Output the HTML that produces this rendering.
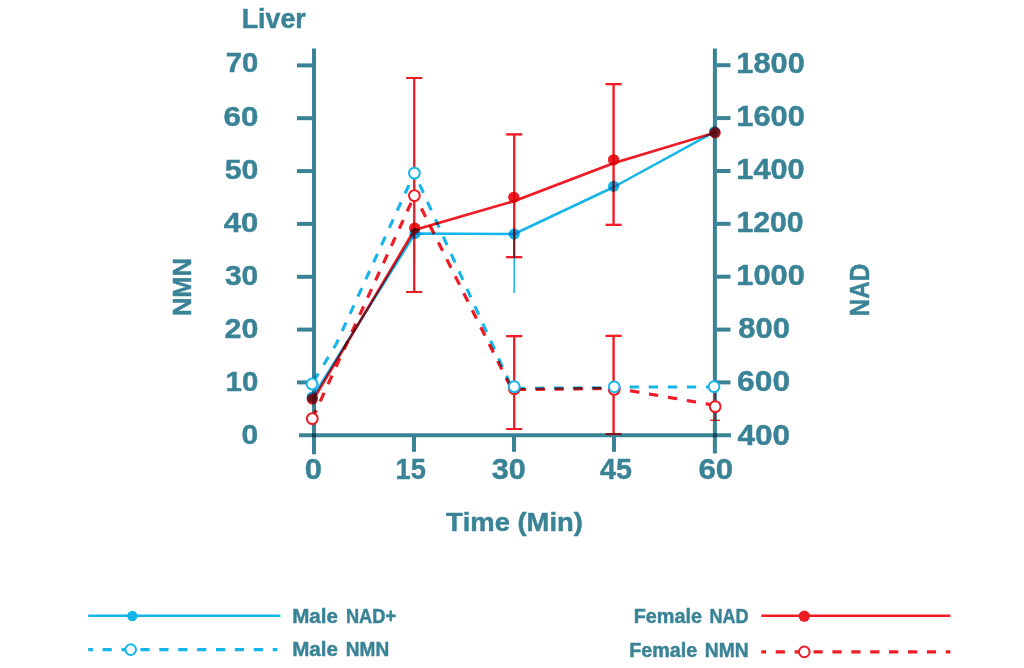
<!DOCTYPE html>
<html lang="en"><head><meta charset="utf-8"><title>Liver NMN / NAD</title>
<style>
html,body{margin:0;padding:0;background:#fff;}
body{width:1024px;height:668px;overflow:hidden;}
svg{display:block;}
text{font-family:"Liberation Sans",sans-serif;font-weight:bold;fill:#3a8397;font-kerning:none;stroke:#3a8397;stroke-width:0.45;stroke-linejoin:round;}
.m{mix-blend-mode:multiply;}
.ax{stroke:#3a8397;stroke-width:4;fill:none;}
.r{stroke:#ee1c25;fill:none;}
.c{stroke:#16b5e9;fill:none;}
</style></head><body>
<svg width="1024" height="668" viewBox="0 0 1024 668">
<rect width="1024" height="668" fill="#fff"/>

<g class="ax" style="isolation:auto">
<line class="m" x1="314" y1="48.5" x2="314" y2="454.2"/>
<line class="m" x1="714.9" y1="48.5" x2="714.9" y2="453.6"/>
<line class="m" x1="299" y1="435.2" x2="731" y2="435.2"/>
<line x1="297" y1="382.4" x2="312" y2="382.4"/>
<line x1="297" y1="329.6" x2="312" y2="329.6"/>
<line x1="297" y1="276.8" x2="312" y2="276.8"/>
<line x1="297" y1="223.9" x2="312" y2="223.9"/>
<line x1="297" y1="171.1" x2="312" y2="171.1"/>
<line x1="297" y1="118.2" x2="312" y2="118.2"/>
<line x1="297" y1="65.4" x2="312" y2="65.4"/>
<line x1="717" y1="382.4" x2="730.5" y2="382.4"/>
<line x1="717" y1="329.6" x2="730.5" y2="329.6"/>
<line x1="717" y1="276.7" x2="730.5" y2="276.7"/>
<line x1="717" y1="223.8" x2="730.5" y2="223.8"/>
<line x1="717" y1="171.0" x2="730.5" y2="171.0"/>
<line x1="717" y1="118.1" x2="730.5" y2="118.1"/>
<line x1="717" y1="65.2" x2="730.5" y2="65.2"/>
<line x1="414" y1="437" x2="414" y2="451.8"/>
<line x1="514" y1="437" x2="514" y2="451.8"/>
<line x1="614" y1="437" x2="614" y2="451.8"/>
</g>
<g>
<text x="241.71" y="27.80" font-size="26.8" textLength="64.00" lengthAdjust="spacingAndGlyphs">Liver</text>
<text x="241.61" y="444.40" font-size="28.3" textLength="16.72" lengthAdjust="spacingAndGlyphs">0</text>
<text x="225.54" y="391.26" font-size="28.3" textLength="32.76" lengthAdjust="spacingAndGlyphs">10</text>
<text x="224.55" y="338.12" font-size="28.3" textLength="33.80" lengthAdjust="spacingAndGlyphs">20</text>
<text x="224.91" y="284.98" font-size="28.3" textLength="33.42" lengthAdjust="spacingAndGlyphs">30</text>
<text x="223.83" y="231.84" font-size="28.3" textLength="34.54" lengthAdjust="spacingAndGlyphs">40</text>
<text x="224.67" y="178.70" font-size="28.3" textLength="33.67" lengthAdjust="spacingAndGlyphs">50</text>
<text x="223.55" y="125.56" font-size="28.3" textLength="34.83" lengthAdjust="spacingAndGlyphs">60</text>
<text x="225.74" y="72.42" font-size="28.3" textLength="32.56" lengthAdjust="spacingAndGlyphs">70</text>
<text x="737.42" y="444.50" font-size="28.6" textLength="52.67" lengthAdjust="spacingAndGlyphs">400</text>
<text x="737.14" y="391.43" font-size="28.6" textLength="52.96" lengthAdjust="spacingAndGlyphs">600</text>
<text x="738.32" y="338.36" font-size="28.6" textLength="51.76" lengthAdjust="spacingAndGlyphs">800</text>
<text x="736.36" y="285.29" font-size="28.6" textLength="68.50" lengthAdjust="spacingAndGlyphs">1000</text>
<text x="736.40" y="232.22" font-size="28.6" textLength="67.14" lengthAdjust="spacingAndGlyphs">1200</text>
<text x="736.37" y="179.15" font-size="28.6" textLength="68.29" lengthAdjust="spacingAndGlyphs">1400</text>
<text x="736.36" y="126.08" font-size="28.6" textLength="68.50" lengthAdjust="spacingAndGlyphs">1600</text>
<text x="736.36" y="73.01" font-size="28.6" textLength="68.50" lengthAdjust="spacingAndGlyphs">1800</text>
<text x="304.78" y="478.90" font-size="29" textLength="17.19" lengthAdjust="spacingAndGlyphs">0</text>
<text x="395.59" y="478.90" font-size="29" textLength="30.27" lengthAdjust="spacingAndGlyphs">15</text>
<text x="491.80" y="478.90" font-size="29" textLength="34.06" lengthAdjust="spacingAndGlyphs">30</text>
<text x="600.07" y="478.90" font-size="29" textLength="31.93" lengthAdjust="spacingAndGlyphs">45</text>
<text x="698.46" y="478.90" font-size="29" textLength="34.72" lengthAdjust="spacingAndGlyphs">60</text>
<text x="445.99" y="530.50" font-size="26.5" textLength="136.87" lengthAdjust="spacingAndGlyphs">Time (Min)</text>
<text transform="translate(190.7 314.9) rotate(-90)" x="-1.21" y="0" font-size="26.6" textLength="58.13" lengthAdjust="spacingAndGlyphs">NMN</text>
<text transform="translate(868.5 315.1) rotate(-90)" x="-1.12" y="0" font-size="27" textLength="52.44" lengthAdjust="spacingAndGlyphs">NAD</text>
<text y="622.50" font-size="19.4"><tspan x="292.22" textLength="45.78" lengthAdjust="spacingAndGlyphs">Male</tspan> <tspan x="345.88" textLength="50.16" lengthAdjust="spacingAndGlyphs">NAD+</tspan></text>
<text y="656.40" font-size="19.4"><tspan x="292.22" textLength="45.78" lengthAdjust="spacingAndGlyphs">Male</tspan> <tspan x="345.82" textLength="43.46" lengthAdjust="spacingAndGlyphs">NMN</tspan></text>
<text y="622.50" font-size="19.4"><tspan x="633.67" textLength="68.30" lengthAdjust="spacingAndGlyphs">Female</tspan> <tspan x="709.59" textLength="39.06" lengthAdjust="spacingAndGlyphs">NAD</tspan></text>
<text y="656.70" font-size="19.4"><tspan x="629.28" textLength="67.99" lengthAdjust="spacingAndGlyphs">Female</tspan> <tspan x="704.81" textLength="43.89" lengthAdjust="spacingAndGlyphs">NMN</tspan></text>
</g>
<g style="isolation:auto">
<path class="c m" stroke-width="1.5" d="M514.2 234V293"/>
<polyline class="c m" stroke-width="2.5" stroke-linejoin="round" points="313.2,396.2 415,233.5 514.2,234 613.8,187 714.6,131.8"/>
<path class="c m" stroke-width="3.1" stroke-dasharray="9.3 10.20" stroke-dashoffset="16.60" d="M312.05 384.0L336.2 344.0"/>
<path class="c m" stroke-width="3.1" stroke-dasharray="9.3 9.60" stroke-dashoffset="4.60" d="M336.2 344.0L414.4 173.1"/>
<path class="c m" stroke-width="3.1" stroke-dasharray="9.3 9.80" stroke-dashoffset="6.60" d="M414.4 173.1L511.9 387.6"/>
<path class="c m" stroke-width="3.1" stroke-dasharray="9.3 9.63" stroke-dashoffset="17.13" d="M514.2 388.4L614.2 387.6"/>
<path class="c m" stroke-width="3.1" stroke-dasharray="9.3 9.80" stroke-dashoffset="3.70" d="M614.2 387.0L714.0 387.0"/>
<circle class="m" cx="312.2" cy="397.2" r="5.6" fill="#16b5e9"/>
<circle class="m" cx="415" cy="233.5" r="5.6" fill="#16b5e9"/>
<circle class="m" cx="514.2" cy="234" r="5.6" fill="#16b5e9"/>
<circle class="m" cx="613.6" cy="186.3" r="5.6" fill="#16b5e9"/>
<circle class="m" cx="714.5" cy="131.8" r="5.6" fill="#16b5e9"/>
<g>
<path class="r m" stroke-width="2.2" d="M414.2 78V292M406.2 78H422.2M406.2 292H422.2"/>
<path class="r m" stroke-width="2.2" d="M514.2 134.4V257.2M506.20000000000005 134.4H522.2M506.20000000000005 257.2H522.2"/>
<path class="r m" stroke-width="2.2" d="M514.2 336.2V429M506.20000000000005 336.2H522.2M506.20000000000005 429H522.2"/>
<path class="r m" stroke-width="2.2" d="M613.6 84.2V224.8M605.6 84.2H621.6M605.6 224.8H621.6"/>
<path class="r m" stroke-width="2.2" d="M613.6 335.8V434M605.6 335.8H621.6M605.6 434H621.6"/>
<path class="r m" stroke-width="1.2" d="M715 392V420.4M710 420.4H720"/>
<polyline class="r m" stroke-width="2.5" stroke-linejoin="round" points="313.5,399.3 414.4,230 514.5,201 614,163 715,132.6"/>
<path class="r m" stroke-width="3.1" stroke-dasharray="9.3 9.70" stroke-dashoffset="0.00" d="M312.3 418.6L414.4 195.6"/>
<path class="r m" stroke-width="3.1" stroke-dasharray="9.3 9.65" stroke-dashoffset="4.50" d="M415.0 195.6L511.8 389.3"/>
<path class="r m" stroke-width="3.1" stroke-dasharray="9.3 9.63" stroke-dashoffset="16.33" d="M514.2 389.6L614.2 388.4"/>
<path class="r m" stroke-width="3.1" stroke-dasharray="9.3 9.90" stroke-dashoffset="3.10" d="M614.2 388.0L715.2 405.4"/>
<circle class="m" cx="312.3" cy="399" r="5.6" fill="#ee1c25"/>
<circle class="m" cx="414.7" cy="228.1" r="5.6" fill="#ee1c25"/>
<circle class="m" cx="513.8" cy="197.3" r="5.6" fill="#ee1c25"/>
<circle class="m" cx="613.6" cy="159.8" r="5.6" fill="#ee1c25"/>
<circle class="m" cx="715.1" cy="132.7" r="5.6" fill="#ee1c25"/>
</g>
<g opacity="0.38">
<path class="r m" stroke-width="2.2" d="M414.2 78V292M406.2 78H422.2M406.2 292H422.2"/>
<path class="r m" stroke-width="2.2" d="M514.2 134.4V257.2M506.20000000000005 134.4H522.2M506.20000000000005 257.2H522.2"/>
<path class="r m" stroke-width="2.2" d="M514.2 336.2V429M506.20000000000005 336.2H522.2M506.20000000000005 429H522.2"/>
<path class="r m" stroke-width="2.2" d="M613.6 84.2V224.8M605.6 84.2H621.6M605.6 224.8H621.6"/>
<path class="r m" stroke-width="2.2" d="M613.6 335.8V434M605.6 335.8H621.6M605.6 434H621.6"/>
<path class="r m" stroke-width="1.2" d="M715 392V420.4M710 420.4H720"/>
<polyline class="r m" stroke-width="2.5" stroke-linejoin="round" points="313.5,399.3 414.4,230 514.5,201 614,163 715,132.6"/>
<path class="r m" stroke-width="3.1" stroke-dasharray="9.3 9.70" stroke-dashoffset="0.00" d="M312.3 418.6L414.4 195.6"/>
<path class="r m" stroke-width="3.1" stroke-dasharray="9.3 9.65" stroke-dashoffset="4.50" d="M415.0 195.6L511.8 389.3"/>
<path class="r m" stroke-width="3.1" stroke-dasharray="9.3 9.63" stroke-dashoffset="16.33" d="M514.2 389.6L614.2 388.4"/>
<path class="r m" stroke-width="3.1" stroke-dasharray="9.3 9.90" stroke-dashoffset="3.10" d="M614.2 388.0L715.2 405.4"/>
<circle class="m" cx="312.3" cy="399" r="5.6" fill="#ee1c25"/>
<circle class="m" cx="414.7" cy="228.1" r="5.6" fill="#ee1c25"/>
<circle class="m" cx="513.8" cy="197.3" r="5.6" fill="#ee1c25"/>
<circle class="m" cx="613.6" cy="159.8" r="5.6" fill="#ee1c25"/>
<circle class="m" cx="715.1" cy="132.7" r="5.6" fill="#ee1c25"/>
</g>
<circle cx="312.3" cy="418.6" r="5.4" fill="#fff" stroke="#ee1c25" stroke-width="2"/>
<circle cx="414.4" cy="195.6" r="5.4" fill="#fff" stroke="#ee1c25" stroke-width="2"/>
<circle cx="514.3" cy="388.7" r="5.4" fill="#fff" stroke="#ee1c25" stroke-width="2"/>
<circle cx="614.2" cy="389.4" r="5.4" fill="#fff" stroke="#ee1c25" stroke-width="2"/>
<circle cx="715.2" cy="406.6" r="5.4" fill="#fff" stroke="#ee1c25" stroke-width="2"/>
<circle cx="312.05" cy="384.0" r="5.4" fill="#fff" stroke="#16b5e9" stroke-width="2"/>
<circle cx="414.4" cy="173.1" r="5.4" fill="#fff" stroke="#16b5e9" stroke-width="2"/>
<circle cx="514.2" cy="386.7" r="5.4" fill="#fff" stroke="#16b5e9" stroke-width="2"/>
<circle cx="614.2" cy="386.8" r="5.4" fill="#fff" stroke="#16b5e9" stroke-width="2"/>
<circle cx="714.0" cy="386.7" r="5.4" fill="#fff" stroke="#16b5e9" stroke-width="2"/>
</g>
<g>
<line class="c" stroke-width="2.4" x1="88.2" y1="615.8" x2="280.4" y2="615.8"/>
<circle cx="132.3" cy="616" r="5.2" fill="#16b5e9"/>
<line class="c" stroke-width="3.2" stroke-dasharray="9.2 9.7" stroke-dashoffset="4.5" x1="88.2" y1="649.6" x2="277.3" y2="649.6"/>
<circle cx="130.7" cy="649.6" r="5.3" fill="#fff" stroke="#16b5e9" stroke-width="2"/>
<line class="r" stroke-width="2.4" x1="761.3" y1="615.8" x2="950.4" y2="615.8"/>
<circle cx="804.3" cy="616.2" r="5.6" fill="#ee1c25"/>
<line class="r" stroke-width="3.2" stroke-dasharray="9.2 9.7" stroke-dashoffset="4.5" x1="761.3" y1="651.9" x2="950.4" y2="651.9"/>
<circle cx="804.3" cy="651.9" r="5.3" fill="#fff" stroke="#ee1c25" stroke-width="2"/>
</g>
</svg>
</body></html>
